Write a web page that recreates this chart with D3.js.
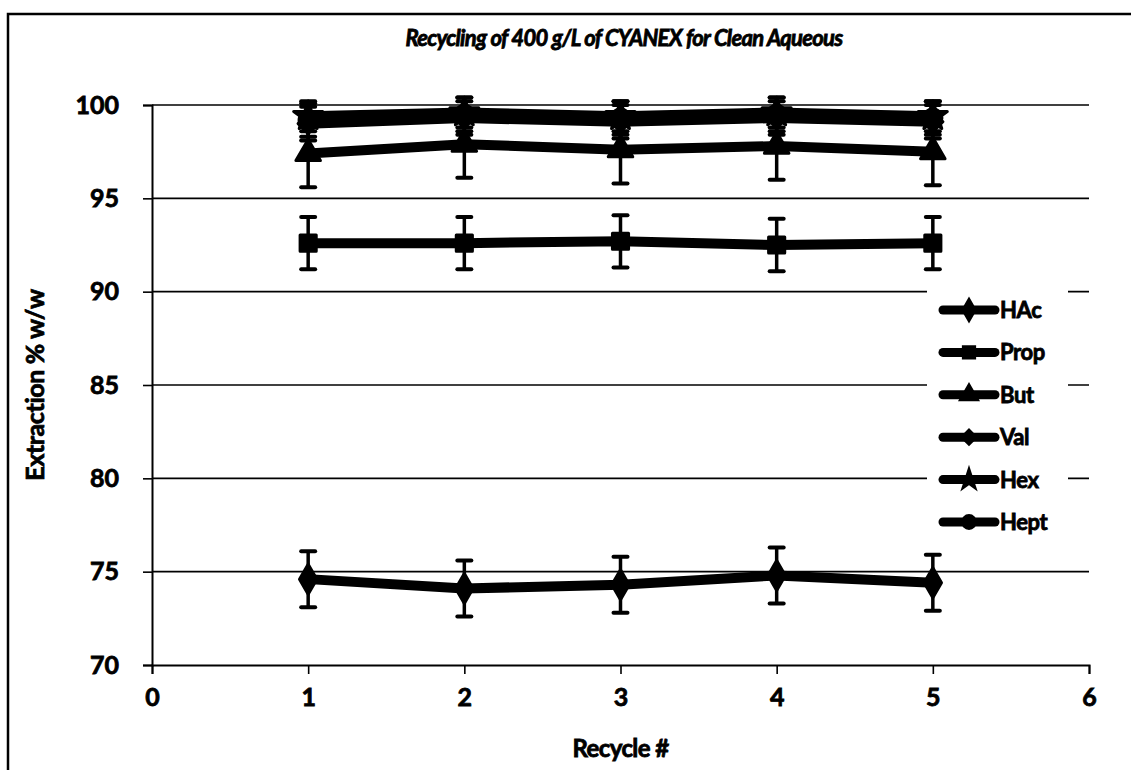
<!DOCTYPE html>
<html><head><meta charset="utf-8">
<script src="https://cdn.jsdelivr.net/npm/d3@7"></script>
<style>
body{margin:0;background:#fff}
svg{display:block}
text{font-family:Lato,"Open Sans",sans-serif;font-weight:bold;fill:#000;stroke:#000;stroke-width:0.8px}
</style>
</head><body>
<svg id="chart" width="1131" height="770"></svg>
<script>
// Recycle runs and extraction (% w/w) per acid
const recycles = [1, 2, 3, 4, 5];
const seriesNames = ["HAc", "Prop", "But", "Val", "Hex", "Hept"];
const hacValues  = [74.6, 74.1, 74.3, 74.8, 74.4];
const propValues = [92.6, 92.6, 92.7, 92.5, 92.6];
const butValues  = [97.4, 97.9, 97.6, 97.8, 97.5];
const valValues  = [99.0, 99.3, 99.1, 99.3, 99.1];
const hexValues  = [99.4, 99.6, 99.4, 99.6, 99.4];
const heptValues = [99.2, 99.5, 99.3, 99.5, 99.3];
// symmetric error (± % w/w) per acid
const errorValues = [1.5, 1.4, 1.8, 0.9, 0.8, 0.9];
const xTicks = [0, 1, 2, 3, 4, 5, 6];
const yTicks = [70, 75, 80, 85, 90, 95, 100];

const seriesValues = [hacValues, propValues, butValues, valValues, hexValues, heptValues];
const markerTypes = [d3.symbolDiamond, d3.symbolSquare, d3.symbolTriangle, d3.symbolDiamond2, d3.symbolStar, d3.symbolCircle];

const series = seriesNames.map((name, i) => ({
  name,
  err: errorValues[i],
  marker: markerTypes[i],
  points: recycles.map((r, j) => ({x: r, y: seriesValues[i][j]}))
}));

const svg = d3.select("#chart");
const W = 1131, H = 770;
const plot = {left: 152, right: 1089, top: 105, bottom: 665};
const FONT = "Lato, 'Open Sans', sans-serif";

const x = d3.scaleLinear().domain([0, 6]).range([plot.left, plot.right]);
const y = d3.scaleLinear().domain([70, 100]).range([plot.bottom, plot.top]);

// outer chart frame
svg.append("rect").attr("x", 8).attr("y", 14).attr("width", W + 20).attr("height", H + 20)
  .attr("fill", "none").attr("stroke", "#000").attr("stroke-width", 2.5);

// title
svg.append("text").attr("x", 624).attr("y", 46)
  .attr("text-anchor", "middle").attr("font-size", 22).attr("font-style", "italic")
  .attr("letter-spacing", -0.7)
  .text("Recycling of 400 g/L of CYANEX for Clean Aqueous");

// horizontal gridlines
svg.append("g").selectAll("line").data(yTicks.filter(t => t > 70)).join("line")
  .attr("x1", plot.left).attr("x2", plot.right)
  .attr("y1", d => y(d)).attr("y2", d => y(d))
  .attr("stroke", "#000").attr("stroke-width", 1.6);

// y axis
const yAxis = svg.append("g").attr("transform", `translate(${plot.left},0)`)
  .call(d3.axisLeft(y).tickValues(yTicks).tickFormat(d3.format("d")).tickSize(9).tickPadding(24));
yAxis.select(".domain").attr("stroke-width", 2);
yAxis.selectAll(".tick line").attr("stroke-width", 1.6);
yAxis.selectAll("text").attr("font-size", 25).attr("font-family", FONT);

// x axis
const xAxis = svg.append("g").attr("transform", `translate(0,${plot.bottom})`)
  .call(d3.axisBottom(x).tickValues(xTicks).tickFormat(d3.format("d")).tickSize(9).tickPadding(14));
xAxis.select(".domain").attr("stroke-width", 2);
xAxis.selectAll(".tick line").attr("stroke-width", 1.6);
xAxis.selectAll("text").attr("font-size", 25).attr("font-family", FONT);

// axis titles
svg.append("text").attr("x", (plot.left + plot.right) / 2).attr("y", 757)
  .attr("text-anchor", "middle").attr("font-size", 24).attr("letter-spacing", -0.6).text("Recycle #");
svg.append("text").attr("transform", `translate(44,${(plot.top + plot.bottom) / 2}) rotate(-90)`)
  .attr("text-anchor", "middle").attr("font-size", 25).attr("letter-spacing", -0.4).text("Extraction % w/w");

// series: error bars, lines, markers
const line = d3.line().x(d => x(d.x)).y(d => y(d.y));
const cap = 7;
series.forEach(s => {
  const g = svg.append("g");
  g.selectAll(".eb").data(s.points).join("line")
    .attr("x1", d => x(d.x)).attr("x2", d => x(d.x))
    .attr("y1", d => y(d.y - s.err)).attr("y2", d => y(d.y + s.err))
    .attr("stroke", "#000").attr("stroke-width", 3.5);
  [-1, 1].forEach(sign => {
    g.selectAll(".cap" + sign).data(s.points).join("line")
      .attr("x1", d => x(d.x) - cap).attr("x2", d => x(d.x) + cap)
      .attr("y1", d => y(d.y + sign * s.err)).attr("y2", d => y(d.y + sign * s.err))
      .attr("stroke", "#000").attr("stroke-width", 4).attr("stroke-linecap", "round");
  });
  g.append("path").datum(s.points).attr("d", line)
    .attr("fill", "none").attr("stroke", "#000").attr("stroke-width", 10)
    .attr("stroke-linejoin", "round").attr("stroke-linecap", "round");
  g.selectAll(".mk").data(s.points).join("path")
    .attr("transform", d => `translate(${x(d.x)},${y(d.y)})`)
    .attr("d", d3.symbol().type(s.marker).size(260))
    .attr("fill", "#000").attr("stroke", "#000").attr("stroke-width", 3).attr("stroke-linejoin", "round");
});

// legend
const legend = svg.append("g");
legend.append("rect").attr("x", 927).attr("y", 287).attr("width", 141).attr("height", 255)
  .attr("fill", "#fff");
const ly = d3.scalePoint().domain(seriesNames).range([310, 522]);
series.forEach(s => {
  const cy = ly(s.name);
  legend.append("line").attr("x1", 943).attr("x2", 995).attr("y1", cy).attr("y2", cy)
    .attr("stroke", "#000").attr("stroke-width", 9).attr("stroke-linecap", "round");
  legend.append("path").attr("transform", `translate(969,${cy})`)
    .attr("d", d3.symbol().type(s.marker).size(150))
    .attr("fill", "#000").attr("stroke", "#000").attr("stroke-width", 2);
  legend.append("text").attr("x", 1000).attr("y", cy).attr("dy", "0.36em")
    .attr("font-size", 22).attr("letter-spacing", -0.4).text(s.name);
});
</script>
</body></html>
